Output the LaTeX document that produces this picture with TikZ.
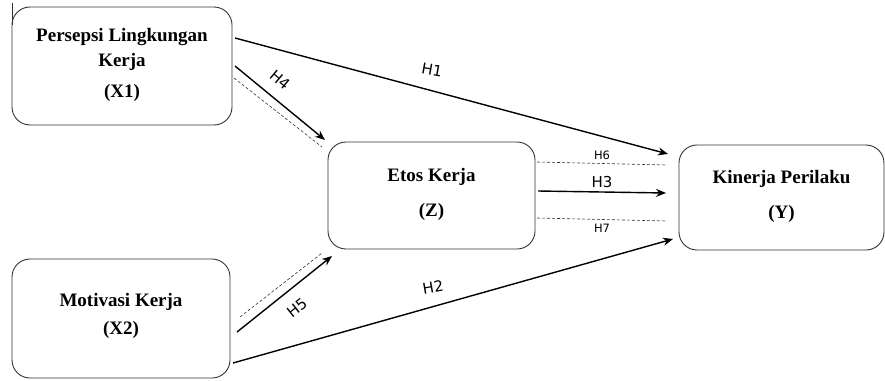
\documentclass[tikz,border=0pt]{standalone}
\usepackage{fontspec}
\setmainfont{Liberation Serif}
\newfontfamily\lblfont{DejaVu Sans}
\usetikzlibrary{arrows.meta,calc}
\begin{document}
\begin{tikzpicture}[x=1pt,y=-1pt,
 box/.style={draw=black!80, line width=0.9pt, rounded corners=18pt, rectangle, inner sep=0pt},
 ttl/.style={font=\fontsize{19}{22}\selectfont\bfseries, anchor=base, inner sep=0pt},
 arr/.style={line width=1.4pt, -{Stealth[length=10pt,width=8pt]}},
 dsh/.style={line width=0.6pt, dash pattern=on 3pt off 2pt, draw=black!80},
 hlbl/.style={font=\fontsize{15}{18}\selectfont\lblfont, inner sep=0pt},
 slbl/.style={font=\fontsize{11.5}{14}\selectfont\lblfont, inner sep=0pt}]
\useasboundingbox (0,0) rectangle (885,380);

% boxes
\node[box, minimum width=220pt, minimum height=118pt] (x1) at (122,66) {};
\node[box, minimum width=218pt, minimum height=119pt] (x2) at (121,318.5) {};
\node[box, minimum width=207pt, minimum height=107pt] (z) at (431.5,195.5) {};
\node[box, minimum width=205pt, minimum height=105pt] (y) at (781.5,197.5) {};
\draw[draw=black!80, line width=0.9pt] (12,3) coordinate (tl1) -- (12,25) coordinate (tl2);

% box texts
\node[ttl] (x1a) at (122,41) {Persepsi Lingkungan};
\node[ttl] (x1b) at (122,66) {Kerja};
\node[ttl] (x1c) at (122,97) {(X1)};
\node[ttl] (x2a) at (121,306) {Motivasi Kerja};
\node[ttl] (x2b) at (121,334) {(X2)};
\node[ttl] (za) at (431.5,181) {Etos Kerja};
\node[ttl] (zb) at (431.5,216) {(Z)};
\node[ttl] (ya) at (781.5,183) {Kinerja Perilaku};
\node[ttl] (yb) at (781.5,218) {(Y)};

% connector end points
\coordinate (h1s) at (235,38);   \coordinate (h1e) at (668,154);
\coordinate (h2s) at (233,363);  \coordinate (h2e) at (673,239);
\coordinate (h3s) at (538,191);  \coordinate (h3e) at (666,193);
\coordinate (h6s) at (537,162);  \coordinate (h6e) at (667,165);
\coordinate (h7s) at (537,218);  \coordinate (h7e) at (667,221);
\coordinate (h4s) at (235,66);   \coordinate (h4e) at (325,140);
\coordinate (h4ds) at (234,78);  \coordinate (h4de) at (322,147);
\coordinate (h5s) at (237,332);  \coordinate (h5e) at (332,256);
\coordinate (h5ds) at (240,317); \coordinate (h5de) at (322,253);

% connectors
\draw[arr] (h1s) -- (h1e);
\draw[arr] (h2s) -- (h2e);
\draw[arr] (h3s) -- (h3e);
\draw[dsh] (h6s) -- (h6e);
\draw[dsh] (h7s) -- (h7e);
\draw[arr] (h4s) -- (h4e);
\draw[dsh] (h4ds) -- (h4de);
\draw[arr] (h5s) -- (h5e);
\draw[dsh] (h5ds) -- (h5de);

% labels
\node[hlbl, rotate=-10] (l1) at (432,70) {H1};
\node[hlbl, rotate=10] (l2) at (433,287) {H2};
\node[hlbl] (l3) at (602,182) {H3};
\node[hlbl, rotate=-40] (l4) at (280,80) {H4};
\node[hlbl, rotate=38] (l5) at (297,308) {H5};
\node[slbl] (l6) at (602,155) {H6};
\node[slbl] (l7) at (602,228) {H7};
\end{tikzpicture}
\end{document}
